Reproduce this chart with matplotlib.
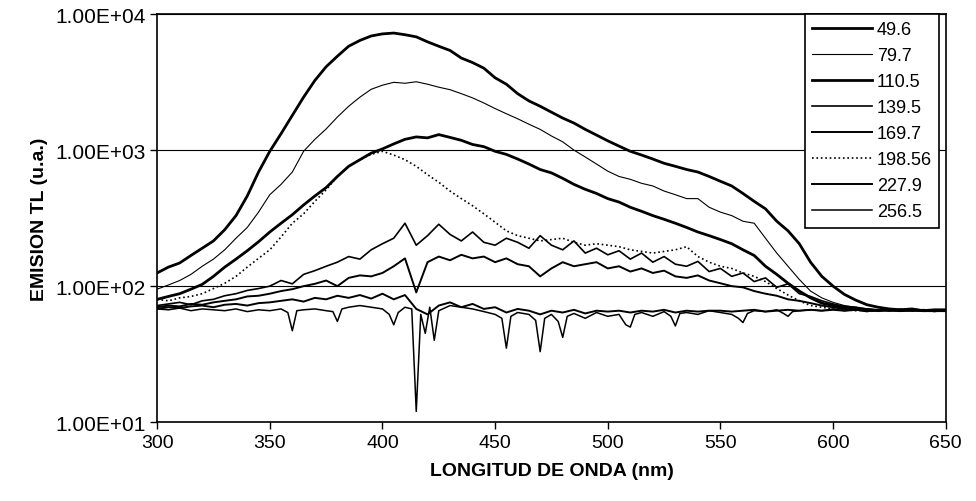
import matplotlib
matplotlib.use("Agg")
import matplotlib.pyplot as plt
from matplotlib.ticker import FuncFormatter, FixedLocator, NullLocator

plt.rcParams['font.family'] = ['Liberation Sans', 'DejaVu Sans']

#wavelength grid (nm) shared by the smoother curves
wl = list(range(300, 651, 5))

#temperatures shown in the legend
temps = ['49.6', '79.7', '110.5', '139.5', '169.7', '198.56', '227.9', '256.5']

#intensities, one list per temperature
t49_6 = [125, 138, 148, 168, 190, 215, 260, 330, 460, 690,
         980, 1320, 1800, 2450, 3250, 4100, 4900, 5800, 6400, 6900,
         7150, 7250, 7050, 6800, 6250, 5800, 5400, 4750, 4400, 4000,
         3400, 3050, 2600, 2300, 2100, 1900, 1720, 1580, 1420, 1290,
         1170, 1070, 980, 920, 860, 800, 760, 720, 690, 640,
         590, 545, 480, 420, 370, 300, 255, 205, 150, 118,
         100, 87, 79, 73, 70, 68, 67, 68, 66, 67,
         67]
t79_7 = [95, 102, 110, 122, 140, 158, 185, 225, 270, 350,
         470, 560, 690, 980, 1200, 1430, 1750, 2100, 2450, 2800,
         3000, 3150, 3100, 3180, 3050, 2900, 2780, 2600, 2420, 2220,
         2020, 1850, 1700, 1550, 1420, 1270, 1150, 1000, 890, 790,
         700, 640, 610, 570, 545, 500, 470, 440, 440, 380,
         350, 330, 300, 290, 225, 175, 140, 112, 92, 82,
         76, 72, 70, 68, 67, 66, 67, 66, 67, 66,
         66]
t110_5 = [80, 84, 88, 95, 103, 118, 138, 158, 182, 212,
          250, 290, 335, 395, 460, 530, 640, 760, 850, 950,
          1020, 1110, 1200, 1250, 1230, 1300, 1240, 1180, 1100, 1060,
          980, 930, 860, 790, 720, 680, 620, 560, 515, 480,
          440, 415, 380, 355, 330, 310, 290, 270, 250, 235,
          220, 205, 185, 168, 140, 122, 105, 92, 82, 75,
          72, 70, 68, 67, 66, 67, 66, 67, 66, 66,
          66]
t139_5 = [72, 74, 76, 73, 78, 80, 85, 88, 93, 96,
          100, 110, 104, 122, 130, 140, 150, 165, 158, 185,
          205, 225, 290, 200, 235, 285, 240, 215, 250, 210,
          200, 225, 210, 190, 235, 200, 185, 215, 175, 190,
          170, 182, 158, 175, 150, 165, 145, 140, 152, 128,
          135, 118, 125, 108, 115, 98, 104, 88, 84, 78,
          74, 71, 70, 68, 67, 66, 67, 66, 66, 67,
          66]
t169_7 = [70, 72, 71, 74, 73, 76, 78, 80, 84, 85,
          88, 92, 95, 100, 104, 110, 100, 115, 120, 118,
          125, 140, 160, 90, 150, 165, 155, 170, 160, 165,
          150, 160, 145, 140, 118, 135, 150, 140, 145, 150,
          135, 140, 128, 135, 125, 130, 118, 115, 120, 110,
          105, 100, 98, 92, 88, 85, 80, 78, 75, 72,
          70, 68, 67, 66, 67, 66, 66, 67, 66, 66,
          66]
t198_56 = [80, 78, 82, 84, 88, 96, 105, 118, 138, 160,
           185, 230, 290, 340, 420, 510, 640, 760, 850, 930,
           980, 920, 850, 760, 660, 580, 500, 440, 390, 340,
           295, 255, 235, 225, 215, 220, 225, 210, 200, 205,
           200, 195, 185, 180, 175, 180, 185, 195, 165, 150,
           140, 135, 125, 118, 108, 96, 86, 78, 72, 70,
           68, 67, 66, 67, 66, 67, 66, 66, 67, 66,
           66]
t227_9 = [68, 70, 69, 71, 72, 70, 73, 74, 72, 75,
          76, 78, 80, 77, 82, 80, 85, 82, 86, 81,
          88, 80, 86, 68, 62, 72, 76, 70, 74, 68,
          70, 64, 68, 66, 62, 66, 64, 67, 63, 66,
          65, 66, 64, 66, 65, 67, 64, 66, 65, 66,
          66, 65, 66, 67, 65, 66, 67, 66, 67, 66,
          67, 66, 67, 66, 66, 67, 66, 66, 67, 66,
          66]

#the last curve has narrow dips, so it gets its own wavelengths
wl_256_5 = [300, 305, 310, 315, 320, 325, 330, 335, 340, 345, 350, 355,
            358, 360, 362, 365, 370, 375, 378, 380, 382,
            385, 390, 395, 400, 403, 405, 407, 410,
            413, 415, 417, 419, 421, 423, 425,
            430, 435, 440, 445, 450, 453, 455, 457, 460, 465,
            468, 470, 472, 475, 478, 480, 482,
            485, 490, 495, 500, 505, 508, 510, 512, 515, 520, 525,
            528, 530, 532, 535, 540, 545, 550, 555, 558, 560, 562,
            565, 570, 575, 578, 580, 582,
            585, 590, 595, 600, 605, 610, 615, 620, 625, 630, 635, 640, 645, 650]
t256_5 = [68, 67, 69, 66, 68, 67, 66, 68, 65, 67, 66, 68,
          64, 47, 66, 67, 68, 66, 65, 55, 68,
          70, 72, 70, 68, 62, 52, 64, 70,
          68, 12, 62, 45, 70, 40, 66,
          72, 70, 68, 65, 62, 58, 35, 60, 64, 62,
          56, 33, 58, 62, 55, 42, 60,
          63, 58, 64, 60, 62, 52, 50, 62, 64, 60, 65,
          60, 51, 63, 64, 62, 66, 64, 62, 58, 54, 63,
          66, 65, 67, 63, 60, 65,
          66, 67, 66, 68, 66, 67, 65, 67, 66, 68, 66, 67, 65, 67]

fig = plt.figure(figsize=(9.76, 5.02), dpi=100)
ax = fig.add_axes([0.161, 0.157, 0.808, 0.813])

#draw each spectrum, widths roughly as in the scan
ax.plot(wl, t49_6, color='black', lw=2.0, label=temps[0])
ax.plot(wl, t79_7, color='black', lw=0.8, label=temps[1])
ax.plot(wl, t110_5, color='black', lw=2.0, label=temps[2])
ax.plot(wl, t139_5, color='black', lw=1.2, label=temps[3])
ax.plot(wl, t169_7, color='black', lw=1.4, label=temps[4])
ax.plot(wl, t198_56, color='black', lw=1.2, ls=':', label=temps[5])
ax.plot(wl, t227_9, color='black', lw=1.4, label=temps[6])
ax.plot(wl_256_5, t256_5, color='black', lw=1.1, label=temps[7])

ax.set_yscale('log')
ax.set_ylim(10, 10000)
ax.set_xlim(300, 650)
ax.yaxis.set_major_locator(FixedLocator([10, 100, 1000, 10000]))
ax.yaxis.set_minor_locator(NullLocator())
ax.yaxis.set_major_formatter(FuncFormatter(lambda v, p: '%.2E' % v))
ax.set_xticks(range(300, 651, 50))

#horizontal gridlines only
ax.grid(axis='y', color='black', lw=0.8)
ax.tick_params(direction='out', length=5, width=1, labelsize=14, colors='black')
ax.tick_params(axis='y', labelsize=15)
for s in ax.spines.values():
    s.set_linewidth(1.2)

ax.set_xlabel('LONGITUD DE ONDA (nm)', fontsize=14, fontweight='bold', labelpad=8)
ax.set_ylabel('EMISION TL (u.a.)', fontsize=14, fontweight='bold', labelpad=5)

leg = ax.legend(loc='upper right', bbox_to_anchor=(0.992, 1.0), borderaxespad=0,
                fontsize=13, handlelength=3.3, handletextpad=0.3, labelspacing=0.5,
                borderpad=0.4, fancybox=False, framealpha=1, edgecolor='black')
leg.get_frame().set_linewidth(1.2)

fig.savefig('out.png', dpi=100)
